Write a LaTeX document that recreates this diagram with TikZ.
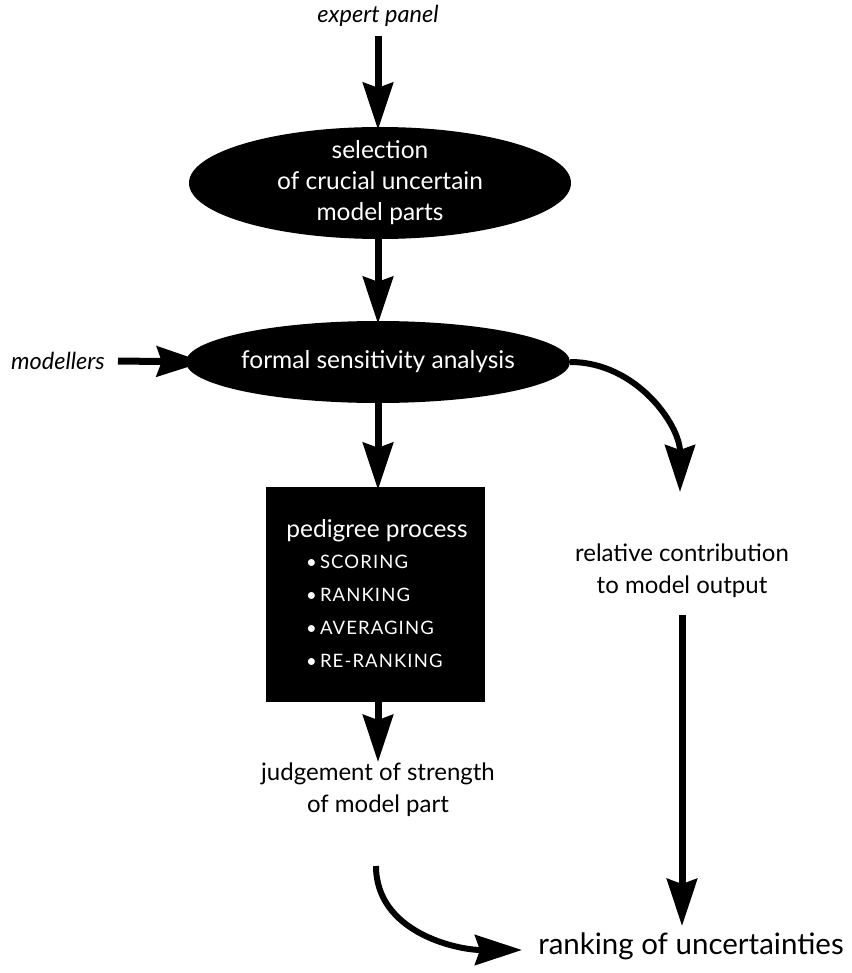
\documentclass[tikz,border=0pt]{standalone}
\usepackage{fontspec}
\setmainfont{Lato}
\usetikzlibrary{arrows.meta,shapes.geometric}

\begin{document}
\begin{tikzpicture}[x=1pt,y=1pt,
  arr/.style={line width=7pt, -{Stealth[length=47pt,width=30pt,inset=5pt]}},
  blob/.style={ellipse, fill=black, draw=none, inner sep=0pt},
  inv/.style={text=white, align=center, inner sep=0pt, font=\fontsize{24.5}{31}\selectfont},
  lbl/.style={align=center, inner sep=0pt, font=\fontsize{24}{32}\selectfont},
  src/.style={inner sep=0pt, font=\fontsize{23.5}{24}\selectfont\itshape},
  caps/.style={text=white, align=left, inner sep=0pt,
    font=\fontsize{18.5}{33}\selectfont\addfontfeature{LetterSpace=6}},
]
\useasboundingbox (0,0) rectangle (851,-973);

% inputs
\node[src] (ep) at (378,-16) {expert panel};
\node[src] (mod) at (58,-361) {modellers};

% selection step
\node[blob, minimum width=382, minimum height=112] (sel) at (380,-183) {};
\node[inv] (selt) at (sel.center) {selection\\of crucial uncertain\\model parts};

% sensitivity analysis
\node[blob, minimum width=384, minimum height=82] (sens) at (378,-362) {};
\node[inv] (senst) at (sens.center) {formal sensitivity analysis};

% pedigree process box
\node[fill=black, minimum width=219, minimum height=215, inner sep=0pt] (ped) at (375.5,-594.5) {};
\node[inv] (pedt) at (377,-531) {pedigree process};
\node[caps, anchor=north west] (pedl) at (306,-555)
  {\textbullet\,SCORING\\\textbullet\,RANKING\\\textbullet\,AVERAGING\\\textbullet\,RE-RANKING};

% outcomes
\node[lbl] (rel) at (682,-571) {relative contribution\\to model output};
\node[lbl] (jud) at (378,-790) {judgement of strength\\of model part};
\node[inner sep=0pt, font=\fontsize{29.5}{30}\selectfont] (rank) at (691,-946) {ranking of uncertainties};

% arrow ends that are not node borders
\coordinate (epout) at (378,-36);
\coordinate (relin) at (680,-492);
\coordinate (relout) at (682,-615);
\coordinate (rankin) at (682,-926);
\coordinate (judout) at (376,-866);
\coordinate (rankl) at (522,-950);
\coordinate (modout) at (118,-361);

% connectors
\draw[arr] (epout) -- ([yshift=-3pt]sel.north -| epout);
\draw[arr] (sel.south -| epout) -- ([yshift=-3pt]sens.north -| epout);
\draw[arr] (modout) -- ([xshift=18pt]sens.west);
\draw[arr] (sens.south -| epout) -- ([yshift=-3pt]ped.north -| epout);
\draw[arr] (ped.south -| epout) -- (378,-762);
\draw[arr, line width=6pt] (sens.east) to[out=0, in=90] (relin);
\draw[arr] (relout) -- (rankin);
\draw[arr, line width=6pt] (judout) to[out=270, in=180] (rankl);
\end{tikzpicture}
\end{document}
